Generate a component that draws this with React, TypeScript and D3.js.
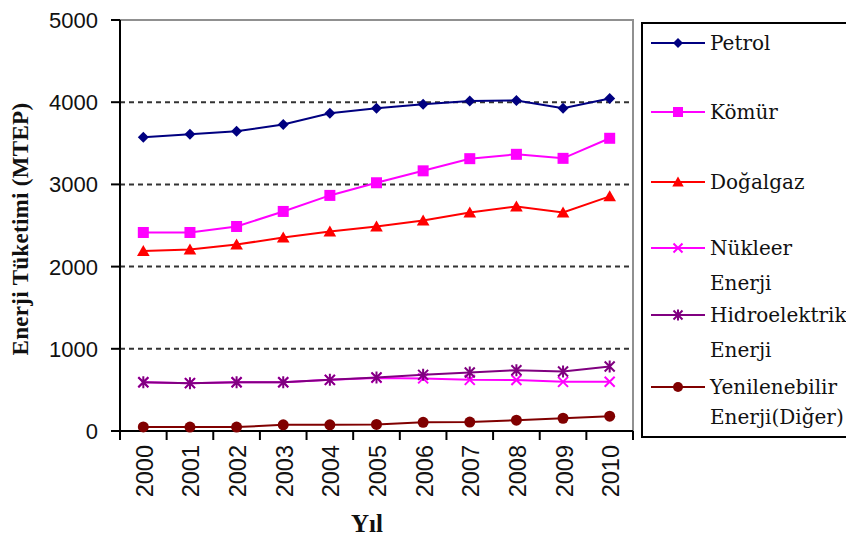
import React from "react";
import * as d3 from "d3";

const years = ["2000","2001","2002","2003","2004","2005","2006","2007","2008","2009","2010"];
const petrol = [3573, 3610, 3646, 3730, 3866, 3927, 3976, 4016, 4020, 3927, 4045];
const komur = [2415, 2415, 2488, 2671, 2866, 3020, 3165, 3313, 3366, 3317, 3561];
const dogalgaz = [2190, 2207, 2268, 2354, 2427, 2488, 2561, 2659, 2732, 2659, 2854];
const nukleer = [594, 582, 594, 594, 622, 646, 640, 622, 620, 598, 600];
const hidro = [594, 582, 594, 594, 622, 652, 683, 711, 740, 723, 784];
const yenilenebilir = [50, 48, 48, 75, 75, 80, 105, 108, 132, 155, 180];
const yTicks = [0, 1000, 2000, 3000, 4000, 5000];

type Marker = "diamond" | "square" | "triangle" | "x" | "asterisk" | "circle";

const seriesList: { name: string[]; values: number[]; color: string; marker: Marker }[] = [
  { name: ["Petrol"], values: petrol, color: "#000080", marker: "diamond" },
  { name: ["Kömür"], values: komur, color: "#FF00FF", marker: "square" },
  { name: ["Doğalgaz"], values: dogalgaz, color: "#FF0000", marker: "triangle" },
  { name: ["Nükleer", "Enerji"], values: nukleer, color: "#FF00FF", marker: "x" },
  { name: ["Hidroelektrik", "Enerji"], values: hidro, color: "#800080", marker: "asterisk" },
  { name: ["Yenilenebilir", "Enerji(Diğer)"], values: yenilenebilir, color: "#800000", marker: "circle" },
];

const SERIF = "'Liberation Serif', 'Times New Roman', serif";
const LEGEND_FONT = "'DejaVu Serif', serif";
const SANS = "'Liberation Sans', Arial, sans-serif";

function MarkerShape({ type, cx, cy, color, s }: { type: Marker; cx: number; cy: number; color: string; s: number }) {
  const t = `translate(${cx},${cy})`;
  switch (type) {
    case "diamond":
      return <path transform={t} d={`M0,${-s}L${s},0L0,${s}L${-s},0Z`} fill={color} />;
    case "square":
      return <rect x={cx - s} y={cy - s} width={2 * s} height={2 * s} fill={color} />;
    case "triangle":
      return <path transform={t} d={`M0,${-s * 1.1}L${s * 1.15},${s * 0.9}L${-s * 1.15},${s * 0.9}Z`} fill={color} />;
    case "x":
      return <path transform={t} d={`M${-s},${-s}L${s},${s}M${-s},${s}L${s},${-s}`} stroke={color} strokeWidth={2} fill="none" />;
    case "asterisk":
      return (
        <path transform={t} d={`M${-s},${-s}L${s},${s}M${-s},${s}L${s},${-s}M0,${-s * 1.2}L0,${s * 1.2}`} stroke={color} strokeWidth={2} fill="none" />
      );
    case "circle":
      return <circle cx={cx} cy={cy} r={s} fill={color} />;
  }
}

export default function App() {
  const W = 846, H = 538;
  const left = 120, right = 633, top = 20, bottom = 431;
  const x = d3.scaleBand<string>().domain(years).range([left, right]);
  const y = d3.scaleLinear().domain([0, 5000]).range([bottom, top]);
  const cx = (yr: string) => (x(yr) as number) + x.bandwidth() / 2;
  const line = d3.line<number>().x((_, i) => cx(years[i])).y((v) => y(v));

  const legendY = [[43], [112], [182], [248, 283], [315, 350], [387, 417]];
  const boundaries = years.map((yr) => x(yr) as number).concat([right]);

  return (
    <svg width={W} height={H} style={{ position: "absolute", left: 0, top: 0, background: "#fff" }}>
      <rect width={W} height={H} fill="#fff" />
      {yTicks.filter((v) => v > 0 && v < 5000).map((v) => (
        <line key={v} x1={left} x2={right} y1={y(v)} y2={y(v)} stroke="#333" strokeWidth={2} strokeDasharray="5,4" />
      ))}
      <path d={`M${left},${y(5000)}L${right},${y(5000)}L${right},${bottom}`} stroke="#909090" strokeWidth={2} fill="none" />
      <line x1={left} x2={left} y1={top} y2={bottom} stroke="#000" strokeWidth={2} />
      <line x1={left} x2={right} y1={bottom} y2={bottom} stroke="#000" strokeWidth={2} />
      {yTicks.map((v) => (
        <g key={v}>
          <line x1={left - 9} x2={left} y1={y(v)} y2={y(v)} stroke="#000" strokeWidth={2} />
          <text x={98} y={y(v)} dy="0.36em" textAnchor="end" style={{ fontFamily: SANS }} fontSize={22} fill="#111">
            {v}
          </text>
        </g>
      ))}
      {boundaries.map((bx, i) => (
        <line key={i} x1={bx} x2={bx} y1={bottom} y2={bottom + 9} stroke="#000" strokeWidth={2} />
      ))}
      {years.map((yr) => (
        <text key={yr} transform={`translate(${cx(yr) + 1},445) rotate(-90)`} textAnchor="end" dy="0.36em" style={{ fontFamily: SANS }} fontSize={23.5} fill="#111">
          {yr}
        </text>
      ))}
      <text x={367} y={532} textAnchor="middle" style={{ fontFamily: SERIF }} fontWeight="bold" fontSize={25} fill="#111">
        Yıl
      </text>
      <text transform={`translate(20,229) rotate(-90)`} textAnchor="middle" dy="0.35em" style={{ fontFamily: SERIF }} fontWeight="bold" fontSize={23} letterSpacing={0.3} fill="#111">
        Enerji Tüketimi (MTEP)
      </text>
      {seriesList.map((s, si) => (
        <g key={si}>
          <path d={line(s.values) || ""} stroke={s.color} strokeWidth={2} fill="none" />
          {s.values.map((v, i) => (
            <MarkerShape key={i} type={s.marker} cx={cx(years[i])} cy={y(v)} color={s.color} s={s.marker === "x" || s.marker === "asterisk" ? 5 : 5.5} />
          ))}
        </g>
      ))}
      <rect x={642} y={23} width={220} height={414} fill="#fff" stroke="#000" strokeWidth={2} />
      {seriesList.map((s, si) => (
        <g key={si}>
          <line x1={651} x2={705} y1={legendY[si][0]} y2={legendY[si][0]} stroke={s.color} strokeWidth={2} />
          <MarkerShape type={s.marker} cx={678} cy={legendY[si][0]} color={s.color} s={s.marker === "x" || s.marker === "asterisk" ? 4.5 : 5} />
          {s.name.map((nm, li) => (
            <text key={li} x={710} y={legendY[si][li]} dy="0.35em" style={{ fontFamily: LEGEND_FONT }} fontSize={20} fill="#111">
              {nm}
            </text>
          ))}
        </g>
      ))}
    </svg>
  );
}
